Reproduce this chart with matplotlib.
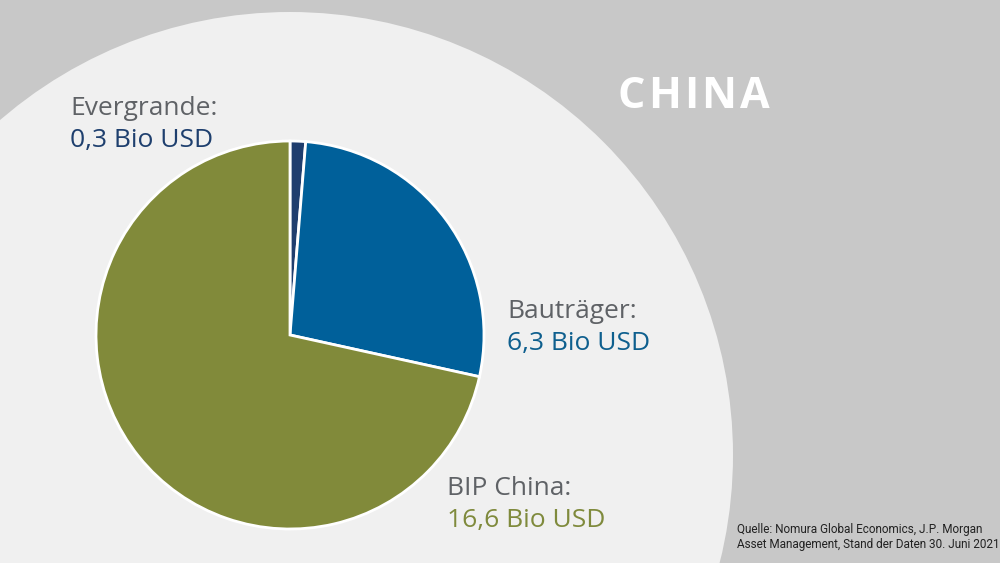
"""
China: Evergrande vs. developers vs. GDP pie chart
"""
import matplotlib
matplotlib.use('Agg')
import matplotlib.pyplot as plt
from matplotlib.patches import Circle

# Data (Bio USD)
labels = ['Evergrande:', 'Bauträger:', 'BIP China:']
values = [0.3, 6.3, 16.6]
value_texts = ['0,3 Bio USD', '6,3 Bio USD', '16,6 Bio USD']
slice_colors = ['#1f3e6e', '#00609a', '#818a3a']
text_colors = ['#1e3f6e', '#0e5f8e', '#7f8a3c']
title = 'CHINA'
source = ('Quelle: Nomura Global Economics, J.P. Morgan\n'
          'Asset Management, Stand der Daten 30. Juni 2021')

W, H = 1000, 563
fig = plt.figure(figsize=(10, 5.63), dpi=100)
fig.patch.set_facecolor('#c8c8c8')
ax = fig.add_axes([0, 0, 1, 1])

# big light circle behind the pie
ax.add_patch(Circle((290, H - 455), 443, facecolor='#f0f0f0', edgecolor='none', zorder=0))

ax.pie(values, colors=slice_colors, startangle=90, counterclock=False,
       center=(290, H - 335), radius=194,
       wedgeprops=dict(edgecolor='white', linewidth=2), frame=True)
ax.set_xlim(0, W)
ax.set_ylim(0, H)
ax.set_aspect('equal')
ax.axis('off')

font = ['Open Sans', 'DejaVu Sans']
label_pos = [(70, 115), (507, 318), (447, 495)]
for (x, y), lab, val, col in zip(label_pos, labels, value_texts, text_colors):
    ax.text(x, H - y, lab, fontsize=19, color='#5f6266', family=font,
            ha='left', va='baseline')
    ax.text(x, H - y - 32, val, fontsize=19, color=col, family=font,
            ha='left', va='baseline')

# title with letter spacing, drawn letter by letter
renderer = fig.canvas.get_renderer()
x = 618
for ch in title:
    t = ax.text(x, H - 108, ch, fontsize=31, fontweight='bold', color='white',
                family=font, ha='left', va='baseline')
    bb = t.get_window_extent(renderer=renderer)
    x += bb.width + 3

ax.text(737, H - 548, source, fontsize=8.5, color='#222222',
        family=['Roboto', 'DejaVu Sans'], ha='left', va='baseline',
        linespacing=1.25)

plt.savefig('out.png', dpi=100, facecolor=fig.get_facecolor())
